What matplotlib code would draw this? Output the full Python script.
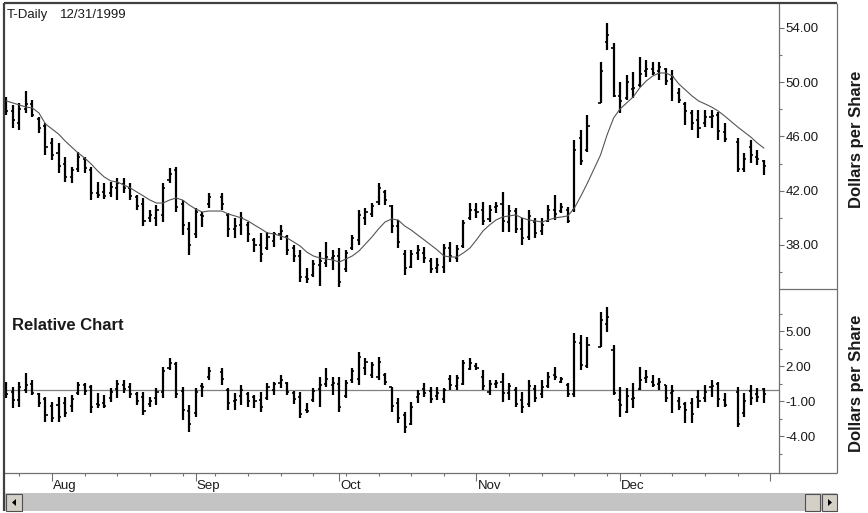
import numpy as np
import pandas as pd
import matplotlib
matplotlib.use('Agg')
import matplotlib.pyplot as plt
from matplotlib.lines import Line2D
from matplotlib.patches import Rectangle, Polygon

plt.rcParams['font.family'] = ['Liberation Sans', 'DejaVu Sans']

# ---------------- data ----------------
start = '1999-07-22'
end = '1999-12-31'
holidays = ['1999-09-06', '1999-11-25', '1999-12-24']
dates = pd.bdate_range(start, end).drop(pd.to_datetime(holidays))

high = [48.91,48.32,48.47,49.35,48.69,47.44,46.99,45.89,45.52,44.49,
        43.75,44.86,44.49,43.75,42.64,42.57,42.64,42.94,42.94,42.57,
        41.68,41.46,40.58,40.95,42.57,43.68,43.75,41.31,39.69,40.72,
        40.43,41.83,41.83,40.36,39.99,40.43,39.69,38.51,38.88,38.95,
        38.95,39.47,38.73,38.00,37.63,36.30,36.89,37.48,38.22,37.63,
        37.77,37.63,38.73,40.58,40.72,41.09,42.57,42.05,40.95,39.84,
        37.63,37.63,38.00,37.85,37.04,37.04,38.07,38.22,38.00,39.84,
        41.09,41.09,41.17,40.95,41.17,41.90,40.95,40.72,39.99,40.58,
        39.99,39.99,40.95,41.68,41.09,40.80,45.74,46.48,47.58,51.49,
        54.37,52.89,50.02,50.53,50.75,51.86,51.64,51.49,51.49,51.05,
        50.90,49.58,48.54,47.95,47.95,47.95,47.95,47.81,46.99,45.89,
        44.78,45.74,45.00,44.27]
low = [47.58,46.63,46.48,47.73,47.44,46.26,44.63,44.27,43.31,42.64,
       42.57,43.38,43.31,41.31,41.46,41.39,41.54,41.31,41.83,41.31,
       40.58,39.40,39.69,39.40,39.69,42.57,40.43,38.73,37.26,38.51,
       39.32,40.72,40.58,38.59,38.51,38.73,38.22,37.48,36.74,37.63,
       37.85,38.37,37.26,36.74,35.27,35.20,35.64,35.00,36.37,36.15,
       34.90,36.01,37.63,38.00,39.47,40.06,40.95,40.95,38.88,37.77,
       35.79,36.30,36.89,36.67,35.93,35.93,35.93,36.74,36.74,37.77,
       39.84,39.99,39.47,39.69,40.36,38.95,38.95,38.88,38.00,38.37,
       38.51,38.73,39.69,39.84,40.36,39.62,40.43,43.90,44.86,48.47,
       52.38,48.91,47.73,48.69,48.84,49.65,50.39,50.53,50.17,49.80,
       48.62,48.47,46.85,46.48,45.89,46.70,46.63,45.74,45.59,43.38,
       43.38,44.04,43.90,43.16]
open_ = [48.6,47.9,47.0,48.0,48.4,47.3,46.8,45.5,44.8,44.0,
         43.0,43.6,44.3,43.5,41.8,41.9,41.8,42.2,42.5,42.2,
         41.5,41.0,40.0,40.0,40.2,42.8,43.5,41.0,39.2,38.8,
         40.2,41.0,41.5,40.2,39.2,39.5,39.5,38.4,38.0,37.8,
         38.3,38.8,38.6,37.8,37.2,35.6,35.8,36.5,36.7,37.0,
         37.2,36.2,37.8,38.4,40.0,40.3,41.2,41.9,40.9,39.4,
         37.3,36.4,37.4,37.4,36.8,36.3,36.4,37.8,37.0,37.9,
         40.0,40.6,40.6,39.9,40.8,41.0,39.7,40.5,39.2,38.6,
         39.7,39.0,39.8,40.6,40.5,40.6,40.6,45.9,45.0,48.5,
         53.0,52.5,49.0,48.8,49.5,49.8,50.8,51.0,50.8,51.0,
         50.2,49.2,48.4,47.7,47.2,47.0,47.4,47.6,46.3,45.6,
         43.6,45.2,44.5,44.2]
close = [47.9,47.2,48.0,48.4,47.6,46.6,45.2,44.6,43.8,43.0,
         43.5,44.5,43.7,41.8,41.7,41.6,42.3,42.6,42.2,41.6,
         40.9,39.8,40.2,40.6,42.2,43.2,40.8,39.5,38.0,40.4,
         40.1,41.5,41.0,39.2,39.4,40.0,38.8,38.0,37.3,38.6,
         38.8,39.0,37.6,37.2,35.6,35.5,36.6,36.8,37.1,37.2,
         35.3,37.4,38.5,40.2,40.4,40.9,42.2,41.3,39.4,38.2,
         36.3,37.3,37.6,37.0,36.2,36.5,37.8,37.2,37.7,39.6,
         40.6,40.4,39.8,40.6,40.9,39.8,40.5,39.2,38.5,40.1,
         38.9,39.5,40.6,40.3,40.8,39.8,45.0,44.2,46.8,50.8,
         53.5,49.0,48.6,50.0,49.6,50.6,51.0,50.7,51.1,50.1,
         50.4,48.7,47.9,47.0,46.6,47.4,47.5,46.4,45.8,43.6,
         44.3,44.6,44.3,43.8]
ma = [48.62,48.47,48.32,48.17,48.10,47.73,46.92,46.55,46.18,45.67,
      45.22,44.78,44.41,43.97,43.45,43.01,42.72,42.64,42.42,42.20,
      41.90,41.61,41.31,41.09,41.09,41.31,41.46,41.31,40.95,40.65,
      40.43,40.50,40.50,40.28,40.14,39.99,39.77,39.47,39.18,38.88,
      38.81,38.66,38.51,38.22,37.92,37.48,37.19,37.04,36.96,36.89,
      36.74,36.96,37.19,37.55,38.07,38.59,39.18,39.69,39.91,39.84,
      39.40,39.10,38.73,38.37,38.00,37.63,37.19,37.11,37.11,37.41,
      37.77,38.37,39.03,39.47,39.84,40.06,40.14,40.21,39.99,39.84,
      39.77,39.69,39.84,39.99,40.06,40.14,40.72,41.61,42.57,44.63,
      46.11,47.36,48.03,48.47,48.91,49.58,50.09,50.46,50.68,50.68,
      50.46,49.87,49.43,48.99,48.62,48.40,48.17,47.88,47.51,46.70,
      46.33,45.96,45.52,45.15]

rel_high = [0.67,0.24,0.67,1.44,0.84,-0.27,-0.61,-1.04,-0.61,-0.61,
            -0.44,0.67,0.59,0.41,-0.27,-0.44,0.16,0.84,0.84,0.59,
            -0.19,-0.19,-0.61,0.16,1.96,2.73,2.39,0.24,-1.30,0.16,
            0.59,1.96,1.87,0.16,-0.27,0.41,-0.19,-0.44,-0.19,0.59,
            0.67,1.27,0.67,-0.10,-0.19,-1.13,0.16,1.10,1.87,1.10,
            1.10,0.84,1.87,3.24,2.73,2.39,2.81,1.44,0.24,-0.70,
            -1.90,-1.04,-0.01,0.59,0.24,0.24,0.16,1.27,1.27,2.56,
            2.73,2.30,1.70,0.84,0.84,1.44,0.59,0.24,-0.19,0.84,
            0.41,0.84,1.53,1.96,1.10,0.59,4.87,4.70,4.53,6.67,
            7.10,3.84,0.24,0.16,0.59,1.96,1.70,1.27,1.01,0.41,
            0.41,-0.61,-1.04,-0.70,-0.01,0.41,0.84,0.67,-0.27,0.24,
            -0.27,0.41,0.16,0.16]
rel_low = [-0.70,-1.56,-1.47,-0.27,-0.44,-1.47,-2.76,-2.76,-2.76,-2.33,
           -1.90,-0.44,-0.44,-1.98,-1.56,-1.56,-1.04,-0.70,-0.27,-0.70,
           -1.30,-2.16,-1.47,-1.30,-0.70,1.70,-0.70,-2.58,-3.61,-2.33,
           -0.61,0.84,0.41,-1.73,-1.73,-1.30,-1.47,-1.56,-1.90,-0.87,
           -0.44,0.16,-0.44,-1.20,-2.41,-1.98,-1.04,-1.47,0.24,-0.44,
           -1.90,-0.70,0.59,0.41,1.27,1.01,0.84,0.41,-1.90,-2.84,
           -3.70,-3.01,-1.13,-0.61,-1.13,-0.87,-1.13,-0.01,-0.01,0.41,
           1.70,1.70,-0.01,-0.44,0.16,-1.04,-0.87,-1.47,-1.98,-1.47,
           -1.04,-0.70,0.16,0.84,0.59,-0.61,-0.61,1.70,1.87,3.67,
           4.96,-0.44,-2.33,-1.98,-1.56,-0.01,0.59,0.24,-0.01,-1.04,
           -1.98,-1.73,-2.84,-2.84,-1.56,-1.04,-0.61,-1.47,-1.47,-3.18,
           -2.33,-1.30,-1.04,-1.13]
rel_open = [0.4,-0.2,-0.9,0.0,0.5,-0.4,-0.8,-1.4,-1.3,-1.1,
            -1.4,-0.3,0.4,0.2,-1.2,-1.1,-0.7,0.1,0.4,0.2,
            -0.4,-0.6,-1.2,-0.7,-0.2,1.9,2.2,-0.1,-1.8,-2.0,
            0.3,1.1,1.5,0.0,-1.0,-0.5,-0.4,-0.6,-0.9,-0.7,
            0.0,0.6,0.6,-0.3,-0.6,-1.7,-0.9,0.1,0.5,0.4,
            0.5,-0.5,0.8,0.9,1.9,1.3,1.1,1.3,0.2,-1.1,
            -2.2,-2.9,-0.6,0.1,-0.1,-0.5,-0.8,0.9,0.3,0.5,
            1.8,2.0,1.1,-0.2,0.5,0.7,-0.3,0.0,-0.9,-1.2,
            0.1,-0.4,0.3,1.3,0.7,0.4,-0.4,4.0,2.0,3.7,
            5.6,3.4,-0.9,-1.9,-0.8,0.1,1.0,0.7,0.5,0.4,
            -0.3,-1.0,-1.2,-1.1,-0.6,-0.7,0.2,0.5,-0.9,-0.2,
            -2.0,-0.1,-0.4,0.1]
rel_close = [-0.4,-0.9,0.2,0.4,-0.3,-1.1,-2.2,-2.4,-2.3,-2.0,
             -0.8,0.4,-0.1,-1.5,-1.3,-1.4,-0.2,0.5,0.1,-0.4,
             -1.0,-1.8,-1.0,-0.2,1.6,2.3,-0.4,-1.7,-2.9,-0.2,
             0.2,1.6,0.9,-1.1,-0.9,0.0,-1.0,-1.0,-1.5,0.2,
             0.5,0.8,-0.2,-0.8,-2.1,-1.8,-0.1,0.4,0.9,0.6,
             -1.5,0.6,1.6,2.8,2.4,2.1,2.4,0.7,-1.4,-2.4,
             -3.2,-1.5,-0.4,-0.3,-0.8,-0.3,0.0,0.4,1.0,2.3,
             2.3,1.9,0.3,0.5,0.6,-0.3,0.3,-1.2,-1.5,0.3,
             -0.7,0.2,1.1,1.1,0.9,-0.4,4.1,2.1,3.8,6.0,
             6.2,-0.3,-1.3,-0.5,-0.7,0.8,1.1,0.4,0.7,-0.7,
             -0.1,-1.5,-1.7,-2.1,-1.0,-0.2,0.3,-0.8,-1.3,-2.9,
             -1.0,-0.7,-0.6,-0.4]

price_ticks = [54, 50, 46, 42, 38]
price_minor = [52, 48, 44, 40, 36]
rel_ticks = [5, 2, -1, -4]
rel_minor = [6.5, 3.5, 0.5, -2.5, -5.5]
month_labels = ['Aug', 'Sep', 'Oct', 'Nov', 'Dec']
month_starts = ['1999-08-02', '1999-09-01', '1999-10-01', '1999-11-01', '1999-12-01']
extra_major = ['2000-01-03']
title_left = 'T-Daily'
title_date = '12/31/1999'
panel_label = 'Relative Chart'
y_label = 'Dollars per Share'

# ---------------- layout helpers ----------------
W, H = 868, 513
fig = plt.figure(figsize=(W / 100, H / 100), dpi=100)
fig.patch.set_facecolor('white')

def fx(px):
    return px / W

def fy(py):
    return 1 - py / H

def day_index(d):
    return int(np.busday_count(np.datetime64(start), np.datetime64(pd.Timestamp(d).date())))

x = np.array([day_index(d) for d in dates])

L, R, T, MID, B = 4, 779, 3, 289, 473
ax_top = fig.add_axes([fx(L), fy(MID), fx(R) - fx(L), fy(T) - fy(MID)])
ax_bot = fig.add_axes([fx(L), fy(B), fx(R) - fx(L), fy(MID) - fy(B)])

# pixel 52 = index 7 (Aug 2), 6.53 px per weekday
px_per = 6.53
xlim = (7 + (L - 52) / px_per, 7 + (R - 52) / px_per)

axis_gray = '#707070'
dark = '#404040'
txt = '#1a1a1a'

def draw_ohlc(ax, xs, o, h, l, c):
    ax.vlines(xs, l, h, color='black', lw=1.6, capstyle='butt')
    ax.hlines(o, xs - 0.32, xs, color='black', lw=1.2)
    ax.hlines(c, xs, xs + 0.32, color='black', lw=1.2)

# ---------- top panel ----------
draw_ohlc(ax_top, x, np.array(open_), np.array(high), np.array(low), np.array(close))
ax_top.plot(x, ma, color='#555555', lw=0.8)
ax_top.set_xlim(*xlim)
ax_top.set_ylim(34.75, 55.84)

# ---------- bottom panel ----------
ax_bot.axhline(0, color='#808080', lw=0.9, zorder=0)
draw_ohlc(ax_bot, x, np.array(rel_open), np.array(rel_high), np.array(rel_low), np.array(rel_close))
ax_bot.set_xlim(*xlim)
ax_bot.set_ylim(-7.13, 8.64)

for ax, ticks, minor in [(ax_top, price_ticks, price_minor), (ax_bot, rel_ticks, rel_minor)]:
    ax.yaxis.tick_right()
    ax.set_yticks(ticks)
    ax.set_yticklabels(['%.2f' % t for t in ticks])
    ax.set_yticks(minor, minor=True)
    ax.tick_params(axis='y', which='major', direction='out', length=3.5, width=0.8,
                   color=axis_gray, labelsize=9.5, labelcolor=txt, pad=1)
    ax.tick_params(axis='y', which='minor', direction='out', length=2.5, width=0.8,
                   color=axis_gray)
    ax.set_facecolor('white')
    for s in ax.spines.values():
        s.set_visible(False)
    ax.spines['right'].set_visible(True)
    ax.spines['right'].set_color(axis_gray)
    ax.spines['right'].set_linewidth(0.9)

ax_top.set_xticks([])

# x ticks on bottom panel
mondays = pd.date_range('1999-07-26', '2000-01-03', freq='W-MON')
major_x = [day_index(d) for d in month_starts + extra_major]
minor_x = [day_index(d) for d in mondays]
ax_bot.set_xticks(major_x)
ax_bot.set_xticklabels([])
ax_bot.set_xticks(minor_x, minor=True)
ax_bot.tick_params(axis='x', which='major', direction='out', length=5.5, width=0.8, color=axis_gray)
ax_bot.tick_params(axis='x', which='minor', direction='out', length=2.5, width=0.8, color=axis_gray)
ax_bot.spines['bottom'].set_visible(True)
ax_bot.spines['bottom'].set_color(axis_gray)
ax_bot.spines['bottom'].set_linewidth(0.9)

for lab, d in zip(month_labels, month_starts):
    ax_bot.annotate(lab, xy=(day_index(d), 0), xycoords=('data', 'axes fraction'),
                    xytext=(0.8, -9.5), textcoords='offset points',
                    ha='left', va='center', fontsize=9.5, color=txt)

# ---------- frame lines (figure pixels) ----------
def fline(x0, y0, x1, y1, color, lw):
    fig.add_artist(Line2D([fx(x0), fx(x1)], [fy(y0), fy(y1)], color=color, lw=lw,
                          transform=fig.transFigure, solid_capstyle='butt'))

fline(L, T, 837, T, dark, 1.6)          # top
fline(L, T, L, 511, dark, 1.6)          # left
fline(837, T, 837, B, axis_gray, 0.9)   # right outer
fline(R, MID, 837, MID, axis_gray, 0.9) # separator in label column
fline(R, B, 837, B, axis_gray, 0.9)     # x axis continuation

# ---------- scrollbar ----------
fig.add_artist(Rectangle((fx(5), fy(511)), fx(837) - fx(5), fy(493) - fy(511),
                         transform=fig.transFigure, facecolor='#c4c4c4', edgecolor='none'))
def button(x0, x1):
    fig.add_artist(Rectangle((fx(x0), fy(511)), fx(x1) - fx(x0), fy(494) - fy(511),
                             transform=fig.transFigure, facecolor='#d4d0c8',
                             edgecolor='#505050', lw=0.8))
button(6, 22)
button(805, 820)
button(822, 837)
fig.add_artist(Polygon([[fx(12), fy(502.5)], [fx(16), fy(499)], [fx(16), fy(506)]],
                       closed=True, transform=fig.transFigure, facecolor='black', edgecolor='none'))
fig.add_artist(Polygon([[fx(832), fy(502.5)], [fx(828), fy(499)], [fx(828), fy(506)]],
                       closed=True, transform=fig.transFigure, facecolor='black', edgecolor='none'))

# ---------- texts ----------
fig.text(fx(7), fy(15), title_left, ha='left', va='center', fontsize=9.5, color=txt)
fig.text(fx(60), fy(15), title_date, ha='left', va='center', fontsize=9.5, color=txt)
fig.text(fx(12), fy(326), panel_label, ha='left', va='center', fontsize=12,
         fontweight='bold', color=txt)
fig.text(fx(857), fy(139), y_label, ha='center', va='center', rotation=90,
         fontsize=12, fontweight='bold', color=txt)
fig.text(fx(857), fy(383), y_label, ha='center', va='center', rotation=90,
         fontsize=12, fontweight='bold', color=txt)

fig.savefig('out.png', dpi=100, facecolor='white')
